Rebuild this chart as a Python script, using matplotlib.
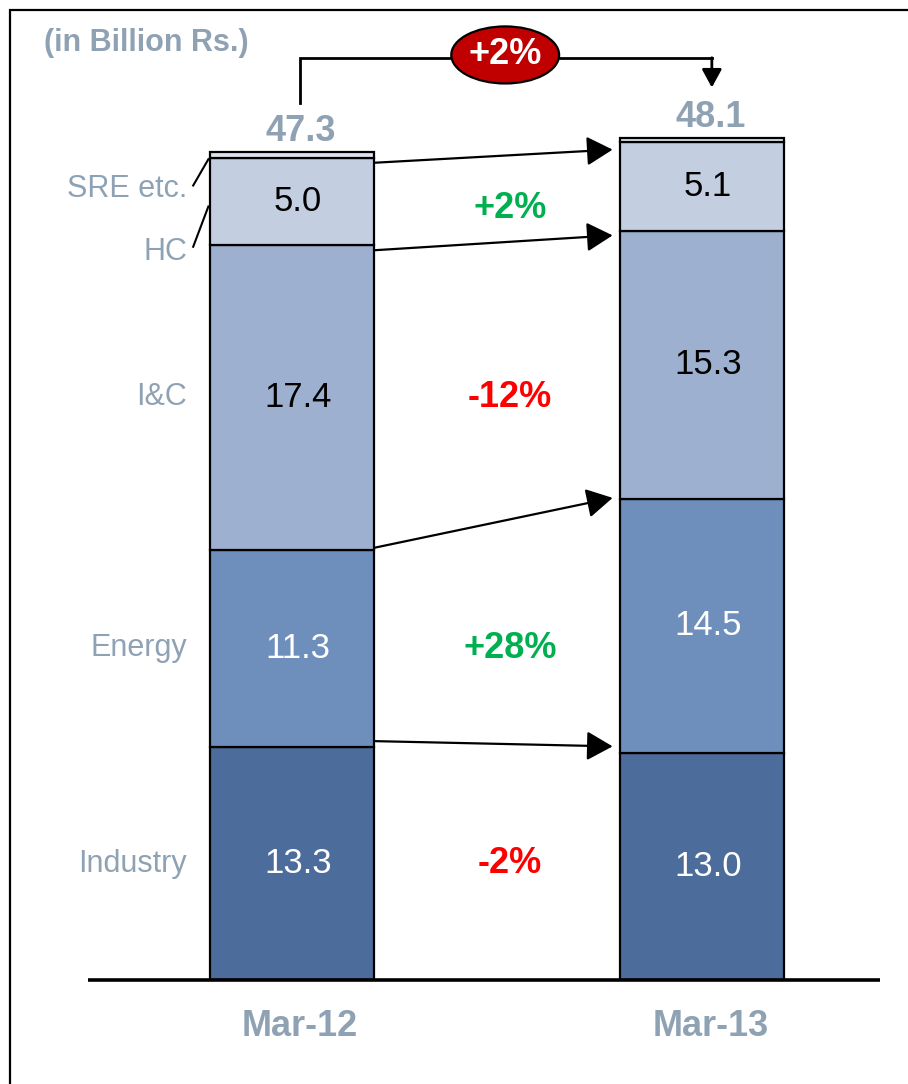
import numpy as np
import matplotlib
matplotlib.use('Agg')
import matplotlib.pyplot as plt
from matplotlib.patches import Ellipse, Rectangle

plt.rcParams['font.family'] = ['Liberation Sans', 'DejaVu Sans']

# данные, млрд рупий
periods = ['Mar-12', 'Mar-13']
segments = ['Industry', 'Energy', 'I&C', 'HC', 'SRE etc.']
industry = [13.3, 13.0]
energy = [11.3, 14.5]
i_c = [17.4, 15.3]
hc = [5.0, 5.1]
sre = [0.3, 0.2]
totals = [47.3, 48.1]
changes = ['-2%', '+28%', '-12%', '+2%']
total_change = '+2%'

colors = ['#4C6C9B', '#6E8EBB', '#9DB0CF', '#C3CEE0', '#DDE3EC']
label_colors = ['white', 'white', 'black', 'black']
gray = '#8FA2B4'
green = '#00B050'
red = '#FF0000'

W, H = 908, 1084
fig = plt.figure(figsize=(W / 100, H / 100), dpi=100)
# оси в пикселях: ноль по y на 980 px, 17.5 px на единицу
ax = fig.add_axes([0, (H - 980) / H, 1, 970 / H])
ax.set_xlim(-292 / 410, (W - 292) / 410)
ax.set_ylim(0, 970 / 17.5)
ax.axis('off')

x = np.arange(len(periods))
bw = 0.402
stack = [industry, energy, i_c, hc, sre]
bottom = np.zeros(len(periods))
tops = []
for k, vals in enumerate(stack):
    vals = np.array(vals)
    ax.bar(x, vals, bw, bottom=bottom, color=colors[k], edgecolor='black',
           linewidth=1.6, zorder=3)
    if k < 4:
        for i in range(len(periods)):
            ax.text(x[i] + 0.015, bottom[i] + vals[i] / 2, '%.1f' % vals[i],
                    ha='center', va='center', fontsize=25,
                    color=label_colors[k], zorder=4)
    bottom = bottom + vals
    tops.append(bottom.copy())

# подписи сегментов слева
lab_x = x[0] - bw / 2 - 0.055
mids = [industry[0] / 2,
        industry[0] + energy[0] / 2,
        industry[0] + energy[0] + i_c[0] / 2]
for name, y in zip(segments[:3], mids):
    ax.text(lab_x, y, name, ha='right', va='center', fontsize=22, color=gray)
ax.text(lab_x, tops[3][0] - 5.4, segments[3], ha='right', va='center',
        fontsize=22, color=gray)
ax.text(lab_x, tops[4][0] - 2.1, segments[4], ha='right', va='center',
        fontsize=22, color=gray)
ax.plot([lab_x + 0.015, x[0] - bw / 2 - 0.003],
        [tops[3][0] - 5.1, tops[3][0] - 2.8], color='black', lw=1.5)
ax.plot([lab_x + 0.015, x[0] - bw / 2 - 0.003],
        [tops[4][0] - 1.9, tops[4][0] - 0.4], color='black', lw=1.5)

# стрелки между столбцами
x_from = x[0] + bw / 2
x_to = x[1] - bw / 2 - 0.017
shifts = [(0.35, 0.35), (-0.1, -0.05), (0.3, 0.25), (0.3, 0.45)]
for k in range(4):
    y0 = tops[k][0] + shifts[k][0]
    y1 = tops[k][1] + shifts[k][1]
    if k > 0:
        y0 = tops[k][0] - shifts[k][0]
        y1 = tops[k][1] - shifts[k][1]
    ax.annotate('', xy=(x_to, y1), xytext=(x_from, y0),
                arrowprops=dict(arrowstyle='-|>,head_length=0.8,head_width=0.45',
                                mutation_scale=20, color='black', lw=1.6,
                                shrinkA=0, shrinkB=0), zorder=5)

# изменения по сегментам
chg_x = 0.532
for k, txt in enumerate(changes):
    y = tops[k][0] - stack[k][0] / 2
    if k == 3:
        y = tops[3][0] - 2.9
    ax.text(chg_x, y, txt, ha='center', va='center', fontsize=26,
            fontweight='bold', color=green if txt.startswith('+') else red)

# итоги над столбцами
for i in range(len(periods)):
    ax.text(x[i] + 0.02, totals[i] + 1.2, '%.1f' % totals[i], ha='center',
            va='center', fontsize=26, fontweight='bold', color=gray)
    ax.text(x[i] + 0.02, -2.63, periods[i], ha='center', va='center',
            fontsize=26, fontweight='bold', color=gray, clip_on=False)

# скобка общего роста
bx0, bx1, by = 0.0195, 1.024, 52.7
ax.plot([bx0, bx0, bx1], [totals[0] + 2.8, by, by], color='black', lw=2,
        solid_joinstyle='miter', zorder=5)
ax.annotate('', xy=(bx1, totals[1] + 2.9), xytext=(bx1, by),
            arrowprops=dict(arrowstyle='-|>,head_length=0.55,head_width=0.3',
                            mutation_scale=20, color='black', lw=2,
                            shrinkA=0, shrinkB=0), zorder=5)
ax.add_patch(Ellipse((0.52, 52.86), 0.263, 3.26, facecolor='#C00000',
                     edgecolor='black', lw=1.6, zorder=6))
ax.text(0.52, 52.86, total_change, ha='center', va='center', fontsize=26,
        fontweight='bold', color='white', zorder=7)

# базовая линия
ax.plot([-0.4976, 1.434], [0, 0], color='black', lw=2.6, zorder=6,
        solid_capstyle='butt', clip_on=False)

fig.text(44 / W, 1 - 43 / H, '(in Billion Rs.)', ha='left', va='center',
         fontsize=22, fontweight='bold', color=gray)

# рамка
fig.patches.append(Rectangle((10 / W, -0.1), 2, 1.1 - 10 / H,
                             transform=fig.transFigure, fill=False,
                             edgecolor='black', lw=1.6))

fig.savefig('out.png', dpi=100)
